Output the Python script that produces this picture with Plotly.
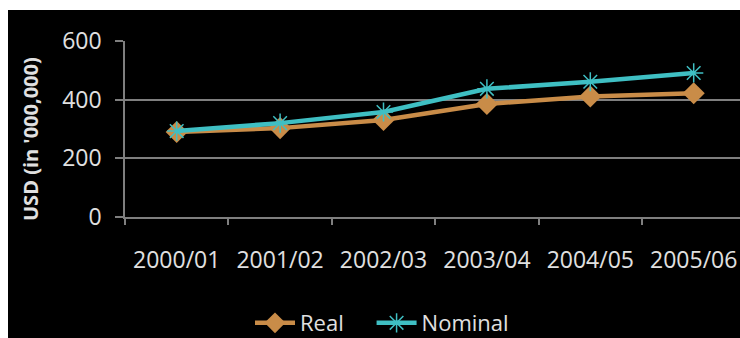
import plotly.graph_objects as go

# Annual expenditure, USD millions
years = ["2000/01", "2001/02", "2002/03", "2003/04", "2004/05", "2005/06"]
real = [290, 303, 331, 385, 411, 422]
nominal = [293, 320, 358, 437, 461, 491]
y_ticks = [0, 200, 400, 600]

W, H = 740, 338
L, R, T, B = 125, 0, 41, 121
pw, ph = W - L - R, H - T - B

def px_x(x):
    return (x - L) / pw

def px_y(y):
    return (H - B - y) / ph

FONT = "Open Sans"
TXT = "#e0e0e0"
GRID = "#7f7f7f"
NBSP = "\u00a0"

fig = go.Figure()
fig.add_trace(go.Scatter(
    x=years, y=real, name="Real" + NBSP * 4, mode="lines+markers",
    line=dict(color="#c98c48", width=4.5),
    marker=dict(symbol="diamond", size=17, color="#c98c48"),
))
fig.add_trace(go.Scatter(
    x=years, y=nominal, name="Nominal", mode="lines+markers",
    line=dict(color="#3fbfc3", width=4.5),
    marker=dict(symbol="asterisk-open", size=16,
                line=dict(color="#1f7f86", width=1.5)),
))

# band width of one category in px, used to clip the last slot at the page edge
band = 103.4
fig.update_xaxes(
    type="category", range=[-0.5, -0.5 + pw / band],
    showgrid=False, showline=True, linecolor=GRID, linewidth=1.5,
    ticks="outside", ticklen=6, tickcolor=GRID, tickwidth=1.5,
    tickson="boundaries", ticklabelstandoff=22,
    tickfont=dict(family=FONT, size=23, color=TXT),
    zeroline=False, automargin=False,
)
fig.update_yaxes(
    range=[0, 600], tickvals=y_ticks,
    showgrid=True, gridcolor=GRID, gridwidth=1.5,
    showline=True, linecolor=GRID, linewidth=1.5,
    ticks="outside", ticklen=8, tickcolor=GRID, tickwidth=1.5,
    ticklabelstandoff=9,
    tickfont=dict(family=FONT, size=23, color=TXT),
    zeroline=False, automargin=False,
)

fig.add_shape(type="rect", xref="paper", yref="paper",
              x0=px_x(8), x1=px_x(W), y0=px_y(H), y1=px_y(10),
              fillcolor="black", line=dict(width=0), layer="below")

fig.add_annotation(
    text="<b>USD (in '000,000)</b>", textangle=-90,
    xref="paper", yref="paper", x=px_x(30), y=px_y(139),
    showarrow=False, xanchor="center", yanchor="middle",
    font=dict(family=FONT, size=20, color=TXT),
)

fig.update_layout(
    width=W, height=H,
    margin=dict(l=L, r=R, t=T, b=B, autoexpand=False),
    paper_bgcolor="white", plot_bgcolor="black",
    showlegend=True,
    legend=dict(orientation="h", x=px_x(250), y=px_y(323),
                xanchor="left", yanchor="middle",
                bgcolor="rgba(0,0,0,0)",
                font=dict(family=FONT, size=22, color=TXT),
                itemwidth=40, tracegroupgap=0),
)

fig.write_html("out.html")
